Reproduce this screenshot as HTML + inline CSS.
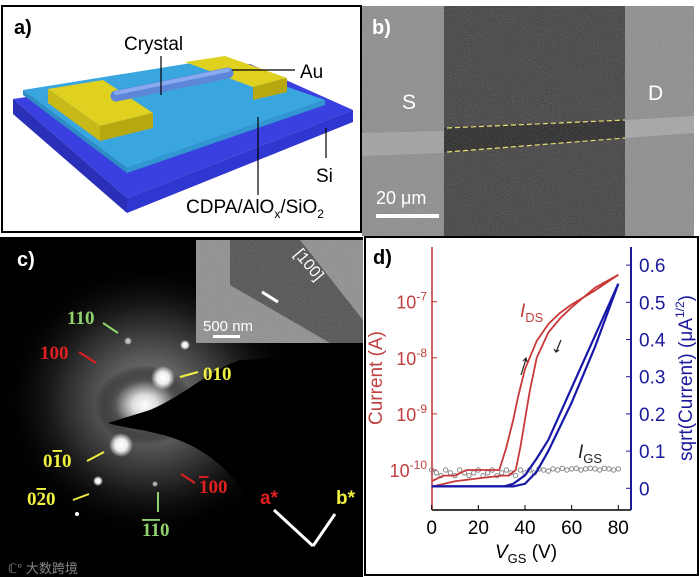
<!DOCTYPE html>
<html><head><meta charset="utf-8"><style>
body{margin:0;width:700px;height:577px;overflow:hidden;background:#fff;font-family:"Liberation Sans",sans-serif}
svg{position:absolute;left:0;top:0}
</style></head><body>
<svg width="700" height="577" viewBox="0 0 700 577">
<defs>
<filter id="noise" x="0" y="0" width="1" height="1"><feTurbulence type="fractalNoise" baseFrequency="0.9" numOctaves="2" result="n"/><feColorMatrix type="saturate" values="0"/><feComponentTransfer><feFuncA type="linear" slope="0.35"/></feComponentTransfer></filter>
<radialGradient id="glow" cx="0.5" cy="0.5" r="0.5"><stop offset="0" stop-color="#fff"/><stop offset="0.25" stop-color="#ddd"/><stop offset="0.6" stop-color="#555"/><stop offset="1" stop-color="#000" stop-opacity="0"/></radialGradient>
<radialGradient id="spot" cx="0.5" cy="0.5" r="0.5"><stop offset="0" stop-color="#fff"/><stop offset="0.5" stop-color="#eee"/><stop offset="1" stop-color="#fff" stop-opacity="0"/></radialGradient>
</defs>

<!-- Panel a -->
<g>
<rect x="2" y="6" width="359" height="226" fill="#fff" stroke="#000" stroke-width="2"/>
<text x="14" y="34" font-size="20" font-weight="bold">a)</text>
<polygon points="13,99 250,64 353,110 127,198" fill="#3a3fe0"/>
<polygon points="13,99 127,198 127,213 13,114" fill="#2a2fb8"/>
<polygon points="127,198 353,110 353,122 127,213" fill="#3036d0"/>
<polygon points="23,90 210,60 325,100 127,168" fill="#3aa6e0"/>
<polygon points="23,90 127,168 127,173 23,95" fill="#2e8cc4"/>
<polygon points="127,168 325,100 325,105 127,173" fill="#3296d0"/>
<polygon points="48,89 103,80 153,113 100,126" fill="#e0d020"/>
<polygon points="100,126 153,113 153,128 100,141" fill="#b8a810"/>
<polygon points="48,89 100,126 100,141 48,103" fill="#c8b818"/>
<polygon points="185,62 225,56 287,78 253,87" fill="#e0d020"/>
<polygon points="253,87 287,78 287,92 253,100" fill="#b8a810"/>
<line x1="116" y1="96" x2="228" y2="73" stroke="#5d86d8" stroke-width="11" stroke-linecap="round"/>
<line x1="116" y1="93" x2="228" y2="70" stroke="#88aaee" stroke-width="4" stroke-linecap="round"/>
<line x1="161" y1="56" x2="161" y2="95" stroke="#000" stroke-width="1.2"/>
<text x="124" y="50" font-size="19">Crystal</text>
<line x1="232" y1="70" x2="295" y2="70" stroke="#000" stroke-width="1.2"/>
<text x="300" y="78" font-size="19">Au</text>
<line x1="326" y1="128" x2="326" y2="158" stroke="#000" stroke-width="1.2"/>
<text x="316" y="182" font-size="19">Si</text>
<line x1="258" y1="117" x2="258" y2="195" stroke="#000" stroke-width="1.2"/>
<text x="186" y="213" font-size="19">CDPA/AlO<tspan font-size="12" dy="5">x</tspan><tspan dy="-5">/SiO</tspan><tspan font-size="12" dy="5">2</tspan></text>
</g>

<!-- Panel b -->
<g>
<rect x="362" y="6" width="332" height="230" fill="#8a8a8a"/>
<rect x="444" y="6" width="181" height="230" fill="#3a3a3a"/>
<polygon points="362,133 444,131 444,153 362,156" fill="#a0a0a0"/>
<polygon points="625,120 694,116 694,133 625,138" fill="#a4a4a4"/>
<polygon points="444,128 625,120 625,138 444,152" fill="#202020"/>
<rect x="362" y="6" width="332" height="230" filter="url(#noise)"/>
<line x1="447" y1="128" x2="625" y2="120" stroke="#e8e070" stroke-width="1.2" stroke-dasharray="5,3"/>
<line x1="447" y1="152" x2="625" y2="138" stroke="#e8e070" stroke-width="1.2" stroke-dasharray="5,3"/>
<text x="372" y="34" font-size="20" font-weight="bold" fill="#fff">b)</text>
<text x="402" y="109" font-size="21" fill="#fff">S</text>
<text x="648" y="100" font-size="21" fill="#fff">D</text>
<text x="376" y="204" font-size="18" fill="#fff">20 μm</text>
<rect x="376" y="214" width="63" height="4" fill="#fff"/>
</g>

<!-- Panel c -->
<g>
<rect x="0" y="237" width="363" height="340" fill="#000"/>
<ellipse cx="150" cy="400" rx="150" ry="140" fill="url(#glow)" opacity="0.45"/>
<ellipse cx="145" cy="405" rx="50" ry="40" fill="url(#glow)"/>
<circle cx="163" cy="378" r="12" fill="url(#spot)"/>
<circle cx="121" cy="445" r="12" fill="url(#spot)"/>
<circle cx="185" cy="345" r="5" fill="url(#spot)"/>
<circle cx="98" cy="481" r="5" fill="url(#spot)"/>
<circle cx="128" cy="341" r="4" fill="url(#spot)" opacity="0.7"/>
<circle cx="155" cy="484" r="3" fill="url(#spot)" opacity="0.7"/>
<circle cx="77" cy="514" r="2" fill="#fff"/>
<path d="M108,423 L150,410 C185,395 210,370 240,360 L363,355 L363,530 C330,540 280,520 250,500 C230,470 210,455 190,445 C160,430 130,430 108,423Z" fill="#000"/>
<rect x="196" y="240" width="167" height="103" fill="#8c8c8c"/>
<polygon points="230,240 300,240 363,320 363,343 330,343 230,285" fill="#4a4a4a"/>
<rect x="196" y="240" width="167" height="103" filter="url(#noise)"/>
<line x1="262" y1="292" x2="278" y2="302" stroke="#fff" stroke-width="3"/>
<text x="290" y="262" font-size="16" fill="#fff" transform="rotate(50 300 262)">[100]</text>
<text x="203" y="331" font-size="15" fill="#fff">500 nm</text>
<rect x="213" y="335" width="27" height="3" fill="#fff"/>
<text x="17" y="266" font-size="20" font-weight="bold" fill="#fff">c)</text>
<g font-family="Liberation Serif, serif" font-weight="bold" font-size="19">
<text x="67" y="324" fill="#8fd16a">110</text>
<text x="40" y="359" fill="#e02020">100</text>
<text x="203" y="380" fill="#f0f040">010</text>
<text x="43" y="467" fill="#f0f040">0<tspan text-decoration="overline">1</tspan>0</text>
<text x="27" y="505" fill="#f0f040">0<tspan text-decoration="overline">2</tspan>0</text>
<text x="199" y="493" fill="#e02020"><tspan text-decoration="overline">1</tspan>00</text>
<text x="142" y="536" fill="#8fd16a"><tspan text-decoration="overline">11</tspan>0</text>
<text x="260" y="504" fill="#e02020" font-family="Liberation Sans,sans-serif">a*</text>
<text x="336" y="504" fill="#f0f040" font-family="Liberation Sans,sans-serif">b*</text>
</g>
<g stroke-width="2" fill="none">
<path d="M103,323 L118,333" stroke="#8fd16a"/><path d="M79,352 L96,363" stroke="#e02020"/>
<path d="M198,372 L180,377" stroke="#f0f040"/><path d="M87,461 L104,452" stroke="#f0f040"/>
<path d="M73,500 L89,494" stroke="#f0f040"/><path d="M195,483 L181,474" stroke="#e02020"/>
<path d="M158,512 L158,492" stroke="#8fd16a"/>
<path d="M313,546 L274,510 M313,546 L335,514" stroke="#fff" stroke-width="3"/>
</g>
<text x="8" y="573" font-size="13" fill="#888" font-family="Liberation Sans,'Noto Sans CJK SC',sans-serif">ℂ° 大数跨境</text>
</g>

<!-- Panel d -->
<g>
<rect x="365" y="237" width="333" height="338" fill="#fff" stroke="#000" stroke-width="2"/>
<text x="373" y="264" font-size="20" font-weight="bold">d)</text>
<g id="chart"></g>
</g>
</svg>
<script>
const xTicks=[0,20,40,60,80];
const leftTicks=[-10,-9,-8,-7];
const rightTicks=[0,0.1,0.2,0.3,0.4,0.5,0.6];
const fwdV=[0,5,10,15,20,25,29,32,35,37,40,45,50,55,60,70,80];
const fwdLogI=[-10.2,-10.1,-10.1,-10.0,-10.0,-10.0,-10.0,-9.6,-9.1,-8.7,-8.2,-7.7,-7.4,-7.2,-7.05,-6.8,-6.52];
const revV=[80,70,60,55,50,45,42,40,38,36,33,30,20,10,0];
const revLogI=[-6.52,-6.75,-7.1,-7.3,-7.55,-8.0,-8.6,-9.1,-9.6,-10.0,-10.1,-10.1,-10.15,-10.2,-10.3];
const sqFwdV=[0,31,35,40,45,50,60,70,80];
const sqFwd=[0.005,0.005,0.012,0.035,0.08,0.13,0.27,0.41,0.55];
const sqRevV=[80,70,60,50,45,40,35,0];
const sqRev=[0.55,0.38,0.23,0.1,0.045,0.012,0.005,0.005];
const igsV=[0,2,4,6,8,10,12,14,16,18,20,22,24,26,28,30,32,34,36,38,40,42,44,46,48,50,52,54,56,58,60,62,64,66,68,70,72,74,76,78,80];
const igsLogI=[-10.0,-10.05,-10.1,-10.0,-10.05,-10.1,-10.0,-10.05,-10.1,-10.05,-10.0,-10.1,-10.05,-10.0,-10.1,-10.05,-10.0,-10.05,-10.1,-10.0,-10.05,-10.0,-10.05,-9.98,-10.0,-10.02,-9.98,-10.0,-9.97,-10.0,-9.98,-9.97,-10.0,-9.98,-9.97,-9.98,-10.0,-9.97,-9.98,-10.0,-9.98];
const X0=431.7,XL=186.6,Y7=301.7,DEC=56.1,Y0R=488.3,R01=37.2;
const L=432,R=631,T=247,B=510;
function x(v){return X0+v*XL/80}
function yl(l){return Y7+(-7-l)*DEC}
function yr(s){return Y0R-s*R01*10}
const g=document.getElementById('chart');const ns='http://www.w3.org/2000/svg';
function mk(t,a,txt){const e=document.createElementNS(ns,t);for(const k in a)e.setAttribute(k,a[k]);if(txt!=null)e.textContent=txt;g.appendChild(e);return e}
let e;
e=mk('line',{x1:L,y1:B,x2:R,y2:B,stroke:'#000','stroke-width':1.5});


e=mk('line',{x1:L,y1:T,x2:L,y2:B,stroke:'#c03030','stroke-width':1.5});


e=mk('line',{x1:R,y1:T,x2:R,y2:B,stroke:'#1a1a9a','stroke-width':2});


xTicks.forEach(v=>{mk('line',{x1:x(v),y1:B,x2:x(v),y2:B-5,stroke:'#000'});
e=mk('text',{x:x(v),y:B+24,'font-size':19,'text-anchor':'middle'},v);

});
leftTicks.forEach(l=>{mk('line',{x1:L,y1:yl(l),x2:L+5,y2:yl(l),stroke:'#c03030'});
e=mk('text',{x:L-5,y:yl(l)+7,'font-size':18,'text-anchor':'end',fill:'#c04040'});
e.innerHTML='10<tspan font-size="12" dy="-8">'+l+'</tspan>';

});
rightTicks.forEach(s=>{mk('line',{x1:R,y1:yr(s),x2:R-5,y2:yr(s),stroke:'#1a1a9a'});
e=mk('text',{x:R+8,y:yr(s)+7,'font-size':19,fill:'#1a1a9a'},s===0?'0':s.toFixed(1));

});
function pl(xs,ys,f,col,w,name){const p=xs.map((v,i)=>x(v).toFixed(1)+','+f(ys[i]).toFixed(1)).join(' ');
const el=mk('polyline',{points:p,fill:'none',stroke:col,'stroke-width':w});

}
igsV.forEach((v,i)=>{const c=mk('circle',{cx:x(v),cy:yl(igsLogI[i]),r:2.2,fill:'none',stroke:'#888'});

});
pl(fwdV,fwdLogI,yl,'#c83838',1.8,'ids-forward-line');
pl(revV,revLogI,yl,'#c83838',1.8,'ids-reverse-line');
pl(sqFwdV,sqFwd,yr,'#1818a8',2.2,'sqrt-forward-line');
pl(sqRevV,sqRev,yr,'#1818a8',2.2,'sqrt-reverse-line');
e=mk('text',{x:0,y:0,'font-size':19,fill:'#c04040','text-anchor':'middle',transform:'translate(382,378) rotate(-90)'},'Current (A)');


e=mk('text',{x:0,y:0,'font-size':19,fill:'#1a1a9a','text-anchor':'middle',transform:'translate(692,378) rotate(-90)'});
e.innerHTML='sqrt(Current) (μA<tspan font-size="12" dy="-8">1/2</tspan><tspan dy="8">)</tspan>';


e=mk('text',{x:526,y:558,'font-size':19,'text-anchor':'middle'});
e.innerHTML='<tspan font-style="italic">V</tspan><tspan font-size="13" dy="5">GS</tspan><tspan dy="-5"> (V)</tspan>';


e=mk('text',{x:520,y:317,'font-size':19,fill:'#c04040'});
e.innerHTML='<tspan font-style="italic">I</tspan><tspan font-size="13" dy="5">DS</tspan>';


e=mk('text',{x:578,y:458,'font-size':19,fill:'#222'});
e.innerHTML='<tspan font-style="italic">I</tspan><tspan font-size="13" dy="5">GS</tspan>';


mk('path',{d:'M521,375 L526,359 M523,361 L526,358 L527,362',stroke:'#222','stroke-width':1.2,fill:'none'});
mk('path',{d:'M561,340 L556,352 M554,349 L556,352 L559,350',stroke:'#222','stroke-width':1.2,fill:'none'});
</script>
</body></html>
